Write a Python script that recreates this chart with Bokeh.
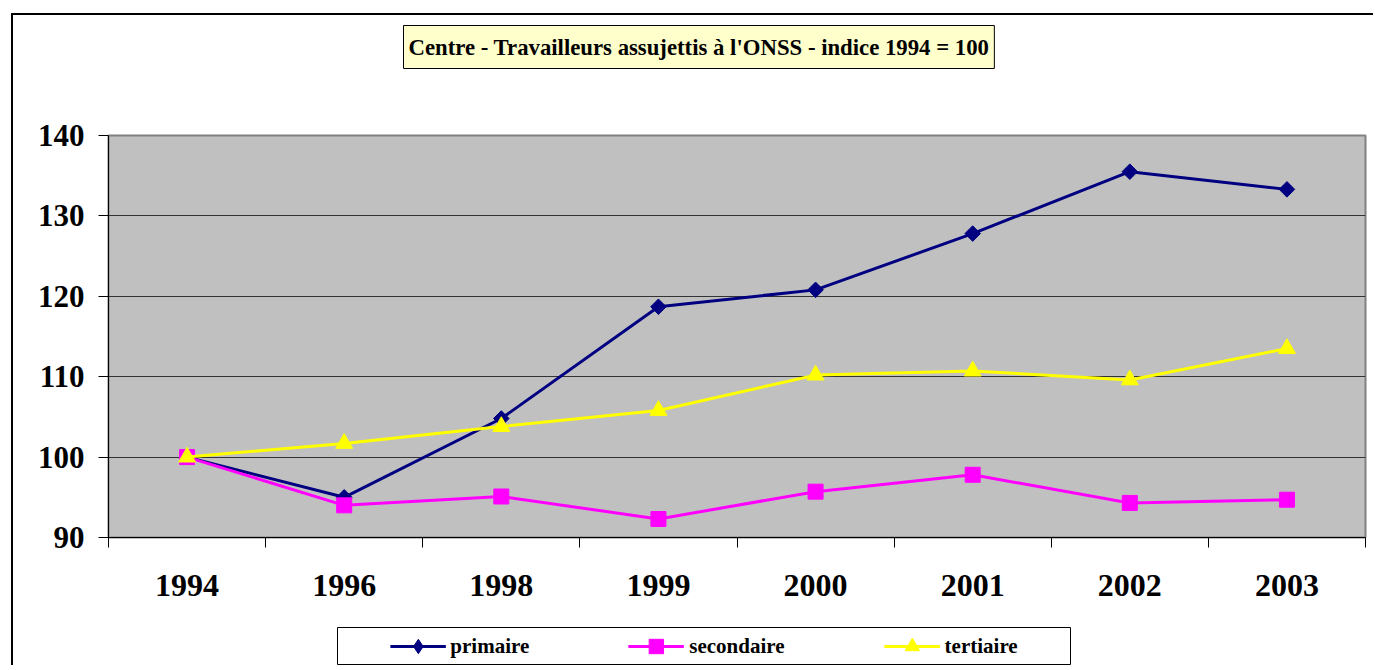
from bokeh.plotting import figure
from bokeh.layouts import column
from bokeh.models import Range1d, FixedTicker, Legend, LegendItem, Title
from bokeh.embed import file_html
from bokeh.resources import INLINE
import numpy as np

years = ["1994", "1996", "1998", "1999", "2000", "2001", "2002", "2003"]
primaire = [100, 95.0, 104.8, 118.7, 120.8, 127.8, 135.5, 133.3]
secondaire = [100, 94.0, 95.1, 92.3, 95.7, 97.8, 94.3, 94.7]
tertiaire = [100, 101.7, 103.8, 105.8, 110.2, 110.7, 109.6, 113.5]
y_ticks = [90, 100, 110, 120, 130, 140]
title_text = "Centre - Travailleurs assujettis à l'ONSS - indice 1994 = 100"
series_names = ["primaire", "secondaire", "tertiaire"]
colors = ["#000080", "#FF00FF", "#FFFF00"]

FONT = "Liberation Serif"
W, H = 1360, 610
ML, MR = 95, 8

p = figure(width=W, height=H, output_backend="svg", toolbar_location=None,
           x_range=Range1d(0, len(years)), y_range=Range1d(90, 140),
           min_border_left=ML, min_border_right=MR, min_border_top=120,
           min_border_bottom=88)
p.background_fill_color = "#C0C0C0"
p.border_fill_color = "white"
p.outline_line_color = "#808080"
p.outline_line_width = 2

# title box (outermost)
p.title.text = title_text
p.title.align = "left"
p.title.vertical_align = "top"
p.title.offset = 295
p.title.standoff = 0
p.title.text_font = FONT
p.title.text_font_style = "bold"
p.title.text_font_size = "22.75px"
p.title.text_color = "black"
p.title.background_fill_color = "#FFFFCC"
p.title.border_line_color = "black"
p.title.border_line_width = 1
p.title.padding = (5, 9)

# spacer between the frame and the title box
spacer = Title(text=" ", text_font_size="1px", standoff=62)
p.add_layout(spacer, "above")

xs = [i + 0.5 for i in range(len(years))]

# axes
p.xaxis.ticker = FixedTicker(ticks=xs, minor_ticks=list(range(len(years) + 1)))
p.xaxis.major_label_overrides = {x: y for x, y in zip(xs, years)}
p.xaxis.major_tick_out = 0
p.xaxis.major_tick_in = 0
p.xaxis.minor_tick_out = 10
p.xaxis.minor_tick_in = 0
p.xaxis.minor_tick_line_color = "black"
p.xaxis.axis_line_color = "black"
p.xaxis.major_label_standoff = 27
p.xaxis.major_label_text_font = FONT
p.xaxis.major_label_text_font_style = "bold"
p.xaxis.major_label_text_font_size = "32px"
p.xaxis.major_label_text_color = "black"

p.yaxis.ticker = FixedTicker(ticks=y_ticks)
p.yaxis.major_tick_out = 10
p.yaxis.major_tick_in = 0
p.yaxis.minor_tick_line_color = None
p.yaxis.axis_line_color = "black"
p.yaxis.major_tick_line_color = "black"
p.yaxis.major_label_standoff = 14
p.yaxis.major_label_text_font = FONT
p.yaxis.major_label_text_font_style = "bold"
p.yaxis.major_label_text_font_size = "31px"
p.yaxis.major_label_text_color = "black"

p.xgrid.visible = False
p.ygrid.ticker = FixedTicker(ticks=y_ticks)
p.ygrid.grid_line_color = "#333333"
p.ygrid.grid_line_width = 1

# series
markers = [dict(marker="square", angle=np.pi / 4, size=11),
           dict(marker="square", size=15),
           dict(marker="triangle", size=17)]
series = [primaire, secondaire, tertiaire]
for vals, c, mk in zip(series, colors, markers):
    p.line(xs, vals, line_color=c, line_width=3)
    p.scatter(xs, vals, fill_color=c, line_color=c, **mk)

# legend figure (box below the chart); its frame is aligned with the main one
LW = 733
pl = figure(width=LW + ML + MR, height=38, output_backend="svg", toolbar_location=None,
            x_axis_type=None, y_axis_type=None,
            min_border_left=ML, min_border_right=MR, min_border_top=0, min_border_bottom=0,
            x_range=Range1d(0, 1), y_range=Range1d(0, 1))
pl.margin = (2, 0, 0, 324 - ML)
pl.outline_line_color = "black"
pl.outline_line_width = 1
pl.background_fill_color = "white"
pl.border_fill_color = "white"
pl.grid.visible = False

legend_markers = ["diamond", "square", "triangle"]
items = []
for name, vals, c, mk in zip(series_names, series, colors, legend_markers):
    # first value only, which lies outside this box's range: only the legend swatch shows
    lr = pl.line(xs[:1], vals[:1], line_color=c, line_width=3)
    sr = pl.scatter(xs[:1], vals[:1], marker=mk, size=15, fill_color=c, line_color=c)
    items.append(LegendItem(label=name, renderers=[lr, sr]))

legend = Legend(items=items, orientation="horizontal", location="center",
                margin=0, padding=0,
                glyph_width=56, glyph_height=36, label_standoff=5, spacing=99,
                border_line_color=None, background_fill_alpha=0,
                label_text_font=FONT, label_text_font_style="bold",
                label_text_font_size="21px", label_text_color="black")
pl.add_layout(legend, "center")

layout = column(p, pl, spacing=0)
layout.margin = (13, 0, 0, 11)
layout.styles = {"border-left": "2px solid black", "border-top": "2px solid black"}

open("out.html", "w").write(file_html(layout, INLINE))
